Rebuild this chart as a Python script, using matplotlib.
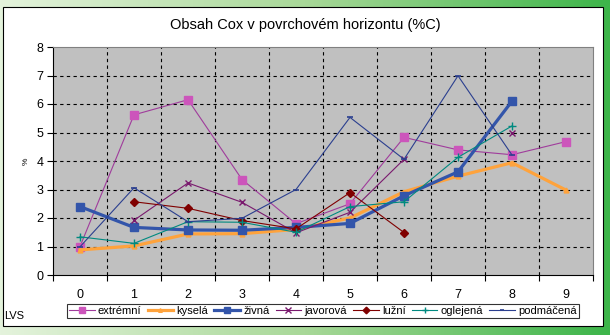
import matplotlib
matplotlib.use("Agg")
import matplotlib.pyplot as plt
from matplotlib.colors import LinearSegmentedColormap
from matplotlib.patches import Rectangle
import numpy as np

nan = np.nan

categories = [0, 1, 2, 3, 4, 5, 6, 7, 8, 9]
extremni = [1.0, 5.62, 6.15, 3.35, 1.8, 2.5, 4.83, 4.39, 4.22, 4.68]
kysela = [0.88, 1.02, 1.44, 1.45, 1.6, 2.0, 2.92, 3.47, 3.94, 2.98]
zivna = [2.4, 1.67, 1.58, 1.57, 1.67, 1.81, 2.78, 3.62, 6.1, nan]
javorova = [nan, 1.92, 3.23, 2.55, 1.48, 2.2, 4.06, nan, 4.98, nan]
luzni = [nan, 2.57, 2.34, 1.91, 1.62, 2.89, 1.49, nan, nan, nan]
oglejena = [1.34, 1.11, 1.87, 1.85, 1.5, 2.4, 2.57, 4.13, 5.23, nan]
podmacena = [0.99, 3.06, 1.87, 1.99, 3.0, 5.53, 4.06, 6.99, 4.21, nan]

plt.rcParams['font.family'] = ['Liberation Sans', 'DejaVu Sans']

fig = plt.figure(figsize=(6.1, 3.35), dpi=100)

# green gradient background
bg = fig.add_axes([0, 0, 1, 1], zorder=-10)
cmap = LinearSegmentedColormap.from_list("g", ["#e4f3dc", "#a8d898", "#3db54a"])
grad = np.linspace(0, 1, 256).reshape(1, -1)
bg.imshow(grad, aspect="auto", cmap=cmap, extent=[0, 1, 0, 1])
bg.set_xlim(0, 1)
bg.set_ylim(0, 1)
bg.axis("off")
bg.add_patch(Rectangle((3 / 610, 1 - 326 / 335), 600 / 610, 319 / 335,
                       facecolor="white", edgecolor="black", linewidth=0.8))

ax = fig.add_axes([53 / 610, 60 / 335, 540 / 610, 228 / 335])
ax.set_facecolor("#c0c0c0")

series = [
    ("extrémní", extremni, dict(color="#a03c9c", lw=0.8, marker="s", ms=5.5, mfc="#cc55bb", mec="#cc55bb")),
    ("kyselá", kysela, dict(color="#ffa33c", lw=2.3, marker="^", ms=3.5, mfc="#ffa33c", mec="#ffa33c")),
    ("živná", zivna, dict(color="#3355aa", lw=2.3, marker="s", ms=6, mfc="#3355aa", mec="#3355aa")),
    ("javorová", javorova, dict(color="#7a1a6e", lw=0.8, marker="x", ms=5, mew=1.0)),
    ("lužní", luzni, dict(color="#800000", lw=0.8, marker="D", ms=4.5)),
    ("oglejená", oglejena, dict(color="#008a80", lw=0.8, marker="+", ms=6, mew=1.0)),
    ("podmáčená", podmacena, dict(color="#2b3f8f", lw=0.8, marker="_", ms=4, mew=1.2)),
]

for name, vals, st in series:
    ax.plot(categories, vals, label=name, **st)

ax.set_xlim(-0.5, 9.5)
ax.set_ylim(0, 8)
ax.set_yticks(range(0, 9))
ax.set_xticks(np.arange(-0.5, 10, 1))
ax.set_xticklabels([])
ax.set_xticks(categories, minor=True)
ax.set_xticklabels([str(c) for c in categories], minor=True)
ax.tick_params(axis="x", which="major", direction="out", length=4, width=0.8)
ax.tick_params(axis="x", which="minor", length=0, pad=10, labelsize=9)
ax.tick_params(axis="y", direction="out", length=4, width=0.8, labelsize=9, pad=3)

for v in range(1, 8):
    ax.axhline(v, color="black", lw=0.8, ls=(0, (3, 3)), zorder=0.5)
for b in np.arange(0.5, 9, 1):
    ax.axvline(b, color="black", lw=0.8, ls=(0, (3, 3)), zorder=0.5)

ax.spines["top"].set_color("#808080")
ax.spines["right"].set_color("#808080")
for s in ["left", "bottom"]:
    ax.spines[s].set_color("black")
    ax.spines[s].set_linewidth(0.8)

ax.set_ylabel("%", fontsize=6, labelpad=5)
fig.text(305 / 610, 1 - 25 / 335, "Obsah Cox v povrchovém horizontu (%C)",
         ha="center", va="center", fontsize=10.5)
fig.text(4 / 610, 1 - 316 / 335, "LVS", ha="left", va="center", fontsize=8)

leg = fig.legend(loc="center", bbox_to_anchor=(323 / 610, 1 - 311 / 335), ncol=7,
                 fontsize=8, frameon=True, fancybox=False, handlelength=2.3,
                 handletextpad=0.3, columnspacing=0.55, borderpad=0.15,
                 borderaxespad=0, markerscale=0.75)
leg.get_frame().set_edgecolor("black")
leg.get_frame().set_linewidth(0.8)

fig.savefig("out.png", dpi=100)
